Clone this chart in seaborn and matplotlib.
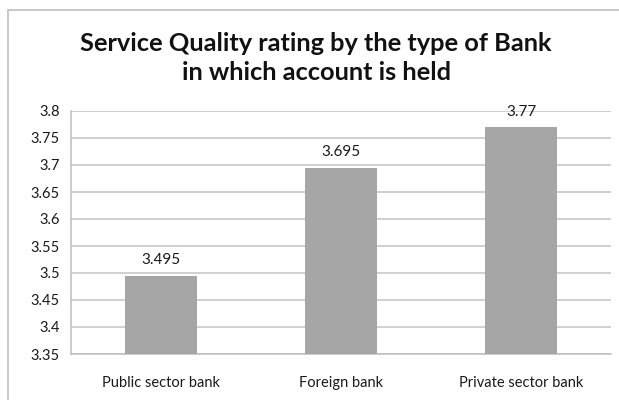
import matplotlib
matplotlib.use("Agg")
import matplotlib.pyplot as plt
from matplotlib.patches import Rectangle
import seaborn as sns
import pandas as pd

# Mean service quality rating per bank type
categories = ["Public sector bank", "Foreign bank", "Private sector bank"]
ratings = [3.495, 3.695, 3.77]
value_labels = ["3.495", "3.695", "3.77"]
y_ticks = [3.35, 3.4, 3.45, 3.5, 3.55, 3.6, 3.65, 3.7, 3.75, 3.8]
y_tick_labels = ["3.35", "3.4", "3.45", "3.5", "3.55", "3.6", "3.65", "3.7", "3.75", "3.8"]

df = pd.DataFrame({"bank": categories, "rating": ratings})

sns.set_theme(style="white")
plt.rcParams["font.family"] = ["Lato", "DejaVu Sans"]

fig = plt.figure(figsize=(6.19, 4.0), dpi=100)
ax = fig.add_axes([71 / 619, 1 - 354 / 400, (611 - 71) / 619, (354 - 111) / 400])

sns.barplot(data=df, x="bank", y="rating", color="#a6a6a6", width=0.4,
            saturation=1, ax=ax, zorder=3, linewidth=0)

ax.set_ylim(3.35, 3.8)
ax.set_xlim(-0.5, 2.5)
ax.set_yticks(y_ticks)
ax.set_yticklabels(y_tick_labels)
ax.yaxis.grid(True, color="#c4c4c4", linewidth=1.1, zorder=0)
ax.set_axisbelow(True)
ax.set_xlabel("")
ax.set_ylabel("")

for side in ["top", "right"]:
    ax.spines[side].set_visible(False)
for side in ["left", "bottom"]:
    ax.spines[side].set_color("#bdbdbd")
    ax.spines[side].set_linewidth(1.1)

# category labels centered, tick marks at the category boundaries
ax.set_xticks([0, 1, 2])
ax.set_xticklabels(categories)
ax.tick_params(axis="x", length=0, pad=16, labelsize=10.5, labelcolor="#1a1a1a")
ax.set_xticks([-0.5, 0.5, 1.5, 2.5], minor=True)
ax.tick_params(axis="x", which="minor", length=5, width=1.1, color="#bdbdbd", direction="out")
ax.tick_params(axis="y", length=5, width=1.1, color="#bdbdbd", direction="out",
               pad=3, labelsize=10.5, labelcolor="#1a1a1a")

for i, (v, lab) in enumerate(zip(ratings, value_labels)):
    ax.annotate(lab, xy=(i, v), xytext=(0, 6), textcoords="offset points",
                ha="center", va="bottom", fontsize=11, color="#1a1a1a")

fig.text(316 / 619, 1 - 58 / 400,
         "Service Quality rating by the type of Bank\nin which account is held",
         ha="center", va="center", fontsize=18.3, fontweight="bold",
         color="#111111", linespacing=1.3)

# chart frame
fig.patches.append(Rectangle((8 / 619, -0.05), 1.1, 1 - 9.5 / 400 + 0.05,
                             transform=fig.transFigure, fill=False,
                             edgecolor="#bfbfbf", linewidth=1.2))

fig.savefig("out.png", dpi=100)
